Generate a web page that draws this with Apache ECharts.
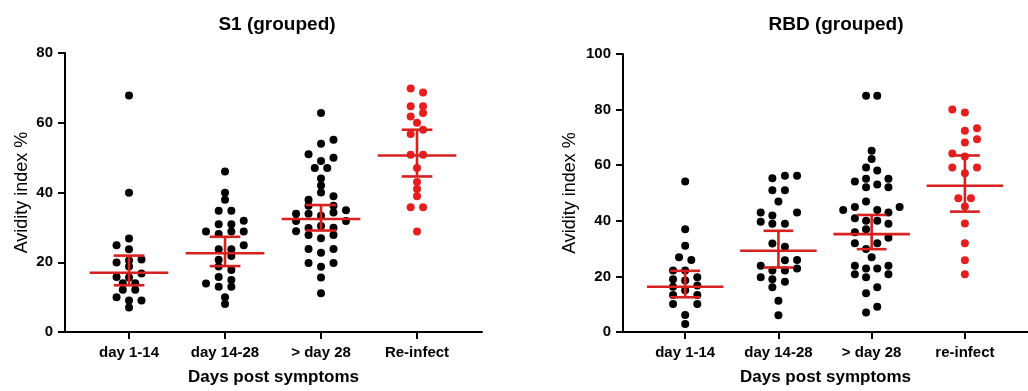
<!DOCTYPE html>
<html>
<head>
<meta charset="utf-8">
<script src="https://cdn.jsdelivr.net/npm/echarts@6/dist/echarts.min.js"></script>
<style>
  html, body { margin: 0; padding: 0; background: #fff; }
  #chart { width: 1028px; height: 391px; }
</style>
</head>
<body>
<div id="chart"></div>
<script>
// ---- data ----------------------------------------------------------------
// Each point is [horizontal swarm offset within its group, avidity index %]
const s1Categories = ['day 1-14', 'day 14-28', '> day 28', 'Re-infect'];
const rbdCategories = ['day 1-14', 'day 14-28', '> day 28', 're-infect'];
const yTicksS1 = [0, 20, 40, 60, 80];
const yTicksRBD = [0, 20, 40, 60, 80, 100];

const s1Day1to14 = [
  [0, 67.8], [0, 39.9], [0, 26.8], [-0.13, 24.9], [0, 23.7], [0.13, 20.8], [0, 20.5],
  [-0.13, 19.9], [0, 18.8], [0.13, 16.8], [-0.13, 15.8], [0, 15.6], [-0.065, 14.0],
  [0.065, 14.0], [-0.065, 12.1], [0.065, 12.1], [-0.13, 10.0], [0, 9.0], [0.13, 9.0], [0, 7.0]
];
const s1Day14to28 = [
  [0, 46.0], [0, 39.9], [0, 37.9], [-0.066, 34.8], [0.066, 34.8], [0.195, 31.9],
  [-0.066, 30.9], [0.066, 30.9], [-0.198, 28.8], [-0.066, 28.1], [0.066, 28.8], [0.195, 28.8],
  [0.195, 24.9], [-0.066, 23.7], [0.066, 23.7], [0.066, 21.8], [-0.066, 20.7], [-0.066, 18.8],
  [0.066, 17.8], [-0.066, 15.8], [0.066, 14.9], [-0.198, 13.9], [-0.066, 13.0], [0.066, 13.0],
  [0, 10.0], [0, 8.0]
];
const s1After28 = [
  [0, 62.8], [0, 54.0], [0.13, 55.1], [-0.13, 51.0], [0.13, 50.0], [0, 49.0],
  [-0.065, 47.0], [0.065, 47.0], [0, 44.0], [0, 42.0], [0, 40.0], [-0.13, 37.9],
  [0.13, 38.9], [-0.13, 36.2], [0.13, 36.2], [0.26, 34.9], [0.13, 34.3], [-0.26, 33.9],
  [-0.13, 33.9], [0, 33.3], [-0.26, 31.8], [0.26, 31.8], [-0.26, 28.9], [-0.13, 29.8],
  [0, 30.4], [0.13, 29.9], [-0.13, 27.8], [0, 26.9], [0.13, 27.8], [-0.13, 23.8],
  [0.13, 23.8], [0, 22.7], [-0.13, 19.8], [0.13, 19.8], [0, 18.7], [0, 15.6], [0, 11.1]
];
const s1Reinfect = [
  [-0.066, 69.8], [0.063, 68.7], [-0.066, 64.7], [0.063, 64.7], [-0.066, 61.8], [0.063, 62.8],
  [0, 60.0], [0.063, 58.0], [-0.066, 56.8], [-0.066, 50.8], [0.063, 50.8], [0, 47.0],
  [0, 43.0], [0, 41.0], [0, 38.9], [-0.066, 35.8], [0.063, 35.8], [0, 28.8]
];

const rbdDay1to14 = [
  [0, 54.1], [0, 37.0], [0, 31.0], [-0.066, 26.9], [0.066, 25.9], [-0.13, 22.1], [0, 22.1],
  [0.13, 19.7], [-0.13, 19.0], [0, 18.5], [-0.13, 16.3], [0.13, 16.7], [0, 15.0],
  [-0.13, 13.3], [0.13, 13.3], [-0.13, 10.1], [0.13, 10.1], [0, 6.1], [0, 2.9]
];
const rbdDay14to28 = [
  [-0.065, 55.3], [0.07, 56.2], [0.2, 56.2], [-0.065, 51.0], [0.07, 51.0], [0, 46.9],
  [-0.19, 43.0], [0.2, 43.0], [-0.065, 41.9], [-0.19, 39.7], [-0.065, 38.9], [0.07, 38.9],
  [-0.065, 31.8], [0.07, 30.7], [0.2, 25.9], [0.07, 25.8], [-0.19, 23.8], [0.2, 22.8],
  [-0.065, 22.1], [0.07, 22.1], [-0.19, 19.7], [-0.065, 19.0], [0.07, 18.1], [-0.065, 16.1],
  [0, 11.2], [0, 6.0]
];
const rbdAfter28 = [
  [-0.06, 85.0], [0.06, 85.0], [0, 65.2], [0, 62.2], [-0.06, 59.2], [0.06, 58.1],
  [-0.18, 54.1], [-0.06, 55.1], [0.18, 55.1], [-0.06, 52.1], [0.06, 53.1], [0.18, 52.1],
  [-0.06, 46.9], [-0.305, 43.9], [-0.18, 45.0], [0.06, 43.9], [0.18, 43.0], [0.3, 45.0],
  [-0.18, 40.9], [-0.06, 40.0], [0.06, 40.0], [0.18, 38.9], [-0.06, 37.0], [-0.18, 35.9],
  [0.18, 33.9], [-0.18, 31.9], [0.06, 31.9], [-0.06, 29.9], [0, 26.9], [-0.18, 23.8],
  [-0.06, 22.8], [0.06, 22.8], [0.18, 23.8], [-0.18, 20.8], [-0.06, 19.7], [0.18, 20.8],
  [0.06, 16.1], [-0.06, 13.9], [0.06, 9.1], [-0.06, 7.0]
];
const rbdReinfect = [
  [-0.135, 80.0], [0, 79.0], [0, 72.4], [0.13, 73.3], [0, 68.2], [0.13, 69.3],
  [-0.135, 64.2], [0, 63.1], [-0.135, 59.2], [0.13, 59.2], [0, 57.1], [-0.07, 48.1],
  [0.065, 48.1], [0, 45.1], [0, 39.0], [0, 31.9], [0, 25.8], [0, 20.8]
];

// centre line and error-bar limits per group
const s1Centre = [17.0, 22.6, 32.4, 50.6];
const s1Low = [13.4, 18.9, 29.1, 44.6];
const s1High = [21.9, 27.3, 36.4, 58.0];
const rbdCentre = [16.3, 29.2, 35.2, 52.6];
const rbdLow = [12.5, 23.2, 29.8, 43.3];
const rbdHigh = [22.0, 36.4, 42.1, 63.5];

// ---- drawing -------------------------------------------------------------
const FONT = '"Liberation Sans", Arial, Helvetica, sans-serif';
const RED_DOT = '#e61e1e';
const RED_LINE = '#d8201f';

function place(groups) {
  return groups.map((g, i) => g.map(p => [i + 1 + p[0], p[1]]));
}

function statsData(centre, low, high) {
  return centre.map((c, i) => [i + 1, c, low[i], high[i]]);
}

function renderStats(params, api) {
  const x = api.value(0), c = api.value(1), lo = api.value(2), hi = api.value(3);
  const half = 0.41, cap = 0.16;
  const seg = (x1, y1, x2, y2) => {
    const a = api.coord([x1, y1]), b = api.coord([x2, y2]);
    return {
      type: 'line',
      shape: { x1: a[0], y1: a[1], x2: b[0], y2: b[1] },
      style: { stroke: RED_LINE, lineWidth: 2.6 }
    };
  };
  return {
    type: 'group',
    children: [
      seg(x - half, c, x + half, c),
      seg(x - cap, hi, x + cap, hi),
      seg(x - cap, lo, x + cap, lo),
      seg(x, lo, x, hi)
    ]
  };
}

function xAxis(gridIndex, cats) {
  return {
    type: 'value', gridIndex, min: 0.333, max: 4.677,
    axisLine: { show: true, lineStyle: { color: '#000', width: 2 } },
    axisTick: { show: true, customValues: [1, 2, 3, 4], length: 7, lineStyle: { color: '#000', width: 2 } },
    axisLabel: {
      customValues: [1, 2, 3, 4], margin: 13,
      formatter: v => cats[Math.round(v) - 1],
      color: '#000', fontFamily: FONT, fontWeight: 'bold', fontSize: 15
    },
    splitLine: { show: false },
    name: 'Days post symptoms', nameLocation: 'middle', nameGap: 37,
    nameTextStyle: { color: '#000', fontFamily: FONT, fontWeight: 'bold', fontSize: 17 }
  };
}

function yAxis(gridIndex, ticks, nameGap) {
  return {
    type: 'value', gridIndex, min: ticks[0], max: ticks[ticks.length - 1], interval: ticks[1] - ticks[0],
    axisLine: { show: true, lineStyle: { color: '#000', width: 2 } },
    axisTick: { show: true, length: 7, lineStyle: { color: '#000', width: 2 } },
    axisLabel: { margin: 12, color: '#000', fontFamily: FONT, fontWeight: 'bold', fontSize: 15 },
    splitLine: { show: false },
    name: 'Avidity index %', nameLocation: 'middle', nameGap,
    nameTextStyle: { color: '#000', fontFamily: FONT, fontSize: 18 }
  };
}

function dots(xi, data, color) {
  return {
    type: 'scatter', xAxisIndex: xi, yAxisIndex: xi, data,
    symbol: 'circle', symbolSize: 8, itemStyle: { color, opacity: 1 },
    silent: true, z: 2
  };
}

const s1Black = place([s1Day1to14, s1Day14to28, s1After28, []]).flat();
const s1Red = place([[], [], [], s1Reinfect]).flat();
const rbdBlack = place([rbdDay1to14, rbdDay14to28, rbdAfter28, []]).flat();
const rbdRed = place([[], [], [], rbdReinfect]).flat();

const chart = echarts.init(document.getElementById('chart'), null, { renderer: 'canvas' });
chart.setOption({
  animation: false,
  backgroundColor: '#fff',
  title: [
    { text: 'S1 (grouped)', left: 272, top: 10, textAlign: 'center',
      textStyle: { fontFamily: FONT, fontWeight: 'bold', fontSize: 19, color: '#000' } },
    { text: 'RBD (grouped)', left: 831, top: 10, textAlign: 'center',
      textStyle: { fontFamily: FONT, fontWeight: 'bold', fontSize: 19, color: '#000' } }
  ],
  grid: [
    { left: 65, top: 53, width: 417, height: 279 },
    { left: 623, top: 54, width: 418, height: 278 }
  ],
  xAxis: [xAxis(0, s1Categories), xAxis(1, rbdCategories)],
  yAxis: [yAxis(0, yTicksS1, 34), yAxis(1, yTicksRBD, 44)],
  series: [
    dots(0, s1Black, '#000'),
    dots(0, s1Red, RED_DOT),
    dots(1, rbdBlack, '#000'),
    dots(1, rbdRed, RED_DOT),
    { type: 'custom', xAxisIndex: 0, yAxisIndex: 0, renderItem: renderStats,
      data: statsData(s1Centre, s1Low, s1High), encode: { x: 0, y: [1, 2, 3] }, z: 5, silent: true },
    { type: 'custom', xAxisIndex: 1, yAxisIndex: 1, renderItem: renderStats,
      data: statsData(rbdCentre, rbdLow, rbdHigh), encode: { x: 0, y: [1, 2, 3] }, z: 5, silent: true }
  ]
});
</script>
</body>
</html>
